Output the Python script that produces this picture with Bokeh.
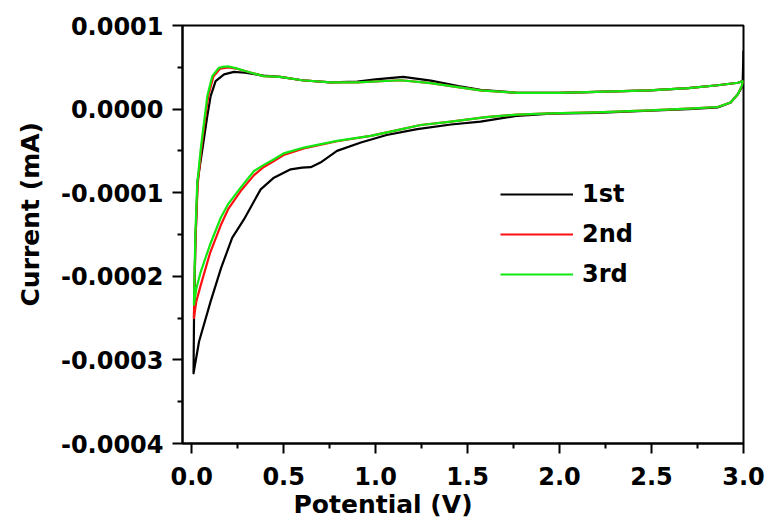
from bokeh.plotting import figure
from bokeh.models import FixedTicker, PrintfTickFormatter, Legend, LegendItem, Range1d, Title
from bokeh.embed import file_html
from bokeh.resources import INLINE

UNIT = 1e-5  # values below are in units of 1e-5 mA

# ---- 1st cycle (black) ----
c1_cath_v = [3.0, 2.995, 2.97, 2.93, 2.86, 2.7, 2.49, 2.2, 1.95, 1.77, 1.57, 1.41, 1.226, 1.06,
             0.92, 0.79, 0.7, 0.647, 0.6, 0.538, 0.447, 0.375, 0.284, 0.22, 0.16, 0.103, 0.04, 0.01]
c1_cath_i = [7.0, 2.8, 1.8, 0.8, 0.2, 0.0, -0.2, -0.45, -0.55, -0.8, -1.5, -1.84, -2.4, -3.1,
             -4.0, -5.0, -6.4, -6.95, -7.0, -7.2, -8.2, -9.6, -13.2, -15.4, -19.0, -23.0, -27.8, -31.6]
c1_anod_v = [0.01, 0.013, 0.02, 0.032, 0.058, 0.085, 0.103, 0.13, 0.176, 0.23, 0.29, 0.39, 0.48,
             0.6, 0.755, 0.9, 1.0, 1.15, 1.3, 1.45, 1.57, 1.77, 2.0, 2.2, 2.49, 2.7, 2.86, 2.97, 3.0]
c1_anod_i = [-31.6, -24.0, -16.0, -8.6, -4.8, -0.8, 1.56, 3.35, 4.15, 4.45, 4.35, 4.0, 3.85,
             3.45, 3.2, 3.3, 3.55, 3.85, 3.4, 2.75, 2.3, 1.95, 1.95, 2.05, 2.25, 2.5, 2.85, 3.15, 3.4]

# ---- 2nd cycle (red) ----
c2_cath_v = [3.0, 2.99, 2.97, 2.93, 2.86, 2.7, 2.49, 2.2, 1.95, 1.77, 1.6, 1.41, 1.245, 1.1, 0.973,
             0.79, 0.61, 0.5, 0.447, 0.39, 0.339, 0.266, 0.2, 0.158, 0.1, 0.05, 0.025, 0.012]
c2_cath_i = [3.4, 2.75, 1.8, 0.8, 0.25, 0.05, -0.15, -0.4, -0.5, -0.65, -0.95, -1.5, -1.9, -2.6, -3.2,
             -3.85, -4.7, -5.5, -6.2, -6.95, -7.9, -9.8, -11.9, -13.9, -17.2, -21.0, -23.0, -25.0]
c2_anod_v = [0.012, 0.02, 0.032, 0.052, 0.07, 0.09, 0.118, 0.155, 0.2, 0.24, 0.29, 0.39, 0.48, 0.6,
             0.755, 0.9, 1.0, 1.136, 1.3, 1.41, 1.57, 1.77, 2.0, 2.2, 2.49, 2.7, 2.86, 2.97, 3.0]
c2_anod_i = [-25.0, -16.0, -9.2, -4.8, -1.6, 1.56, 3.9, 4.85, 5.0, 4.85, 4.55, 3.95, 3.85, 3.45,
             3.2, 3.2, 3.3, 3.45, 3.1, 2.75, 2.25, 1.95, 1.95, 2.05, 2.25, 2.5, 2.85, 3.15, 3.4]

# ---- 3rd cycle (green) ----
c3_cath_v = [3.0, 2.99, 2.97, 2.93, 2.86, 2.7, 2.49, 2.2, 1.95, 1.77, 1.6, 1.41, 1.245, 1.1, 0.973,
             0.79, 0.61, 0.5, 0.447, 0.39, 0.339, 0.266, 0.2, 0.158, 0.1, 0.05, 0.025, 0.012]
c3_cath_i = [3.4, 2.75, 1.8, 0.8, 0.25, 0.05, -0.15, -0.4, -0.5, -0.65, -0.95, -1.5, -1.9, -2.6, -3.2,
             -3.8, -4.6, -5.3, -6.0, -6.7, -7.4, -9.4, -11.3, -13.0, -16.2, -19.4, -21.5, -23.4]
c3_anod_v = [0.012, 0.02, 0.03, 0.049, 0.067, 0.085, 0.112, 0.148, 0.17, 0.2, 0.24, 0.29, 0.39, 0.48,
             0.6, 0.755, 0.9, 1.0, 1.136, 1.3, 1.41, 1.57, 1.77, 2.0, 2.2, 2.49, 2.7, 2.86, 2.97, 3.0]
c3_anod_i = [-23.4, -15.0, -9.0, -4.8, -1.6, 1.56, 3.95, 4.95, 5.05, 5.1, 4.9, 4.55, 3.95, 3.85,
             3.45, 3.2, 3.2, 3.3, 3.45, 3.1, 2.75, 2.25, 1.95, 1.95, 2.05, 2.25, 2.5, 2.85, 3.15, 3.4]

series_names = ["1st", "2nd", "3rd"]
series_colors = ["#000000", "#FF1010", "#12E812"]

x_ticks = [0.0, 0.5, 1.0, 1.5, 2.0, 2.5, 3.0]
x_minor = [0.25, 0.75, 1.25, 1.75, 2.25, 2.75]
y_ticks = [-0.0004, -0.0003, -0.0002, -0.0001, 0.0, 0.0001]
y_minor = [-0.00035, -0.00025, -0.00015, -0.00005, 0.00005]

x_title = "Potential (V)"
y_title = "Current (mA)"

FONT = "DejaVu Sans"

p = figure(width=769, height=520, output_backend="svg", toolbar_location=None,
           x_range=Range1d(-0.05, 3.0), y_range=Range1d(-0.0004, 0.0001),
           min_border_left=182, min_border_right=26, min_border_top=25, min_border_bottom=77)
p.xgrid.visible = False
p.ygrid.visible = False
p.background_fill_color = "white"
p.border_fill_color = "white"
p.outline_line_color = "black"
p.outline_line_width = 2
p.outline_line_alpha = 1

p.xaxis.ticker = FixedTicker(ticks=x_ticks, minor_ticks=x_minor)
p.yaxis.ticker = FixedTicker(ticks=y_ticks, minor_ticks=y_minor)
p.xaxis.formatter = PrintfTickFormatter(format="%.1f")
p.yaxis.formatter = PrintfTickFormatter(format="%.4f")

for ax in (p.xaxis[0], p.yaxis[0]):
    ax.axis_line_width = 2
    ax.axis_line_color = "black"
    ax.major_tick_line_width = 2
    ax.minor_tick_line_width = 2
    ax.major_tick_line_color = "black"
    ax.minor_tick_line_color = "black"
    ax.major_tick_in = 0
    ax.major_tick_out = 10
    ax.minor_tick_in = 0
    ax.minor_tick_out = 5
    ax.major_label_text_font = FONT
    ax.major_label_text_font_style = "bold"
    ax.major_label_text_font_size = "24px"
    ax.major_label_text_color = "black"
p.yaxis.major_label_standoff = 9
p.xaxis.major_label_standoff = 13

cycles = [
    (c1_cath_v + c1_anod_v, c1_cath_i + c1_anod_i),
    (c2_cath_v + c2_anod_v, c2_cath_i + c2_anod_i),
    (c3_cath_v + c3_anod_v, c3_cath_i + c3_anod_i),
]
items = []
for (vs, cs), name, col in zip(cycles, series_names, series_colors):
    r = p.line(list(vs), [c * UNIT for c in cs], line_color=col, line_width=2.2,
               line_join="round")
    items.append(LegendItem(label=name, renderers=[r]))

legend = Legend(items=items, location=(318, 154), orientation="vertical",
                padding=0, margin=0, spacing=10, glyph_width=73, glyph_height=30,
                label_height=30, label_standoff=9,
                label_text_font=FONT, label_text_font_style="bold",
                label_text_font_size="24px", label_text_color="black",
                border_line_alpha=0, background_fill_alpha=0)
p.add_layout(legend)

p.add_layout(Title(text=x_title, align="left", offset=111, standoff=0,
                   text_font=FONT, text_font_style="bold", text_font_size="25px",
                   text_color="black"), "below")
p.add_layout(Title(text=y_title, align="left", offset=137, standoff=25,
                   text_font=FONT, text_font_style="bold", text_font_size="25px",
                   text_color="black"), "left")

open("out.html", "w").write(file_html(p, INLINE))
